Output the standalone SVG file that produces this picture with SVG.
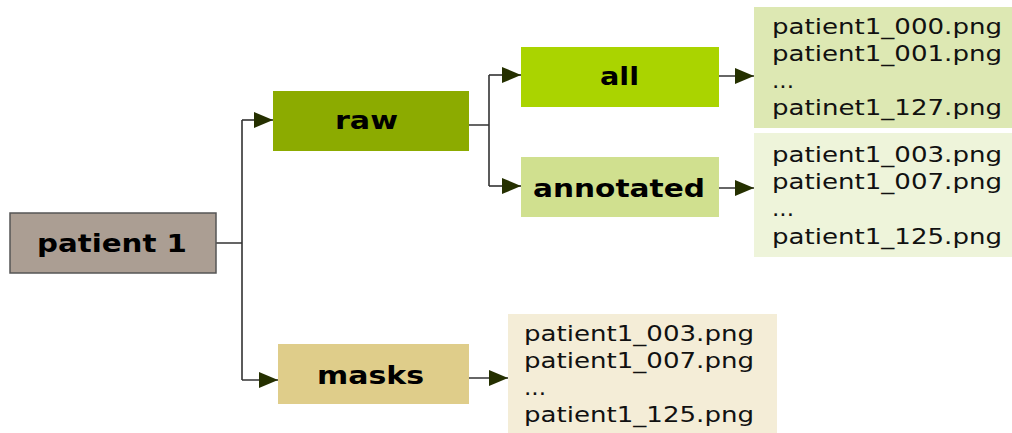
<svg xmlns="http://www.w3.org/2000/svg" width="1012" height="433" viewBox="0 0 1012 433">
<style>
.lbl{font-family:"DejaVu Sans","Verdana",sans-serif;font-weight:bold;font-size:25px;fill:#000;text-anchor:start}
.lst{font-family:"DejaVu Sans","Verdana",sans-serif;font-size:22px;fill:#111}
.ln{stroke:#333;stroke-width:1.6;fill:none}
</style>
<defs>
<marker id="ah" markerUnits="userSpaceOnUse" markerWidth="20" markerHeight="16" refX="19" refY="8" orient="auto">
<path d="M0,0 L19,8 L0,16 Z" fill="#253000"/>
</marker>
</defs>
<rect width="1012" height="433" fill="#fff"/>
<g id="connectors">
<path class="ln" d="M216,243 H242 M242,120 V380"/>
<path class="ln" d="M242,120 H273" marker-end="url(#ah)"/>
<path class="ln" d="M242,380 H278" marker-end="url(#ah)"/>
<path class="ln" d="M469,125 H489 M489,75 V186"/>
<path class="ln" d="M489,75 H521" marker-end="url(#ah)"/>
<path class="ln" d="M489,186 H521" marker-end="url(#ah)"/>
<path class="ln" d="M719,76 H754" marker-end="url(#ah)"/>
<path class="ln" d="M719,188 H754" marker-end="url(#ah)"/>
<path class="ln" d="M469,378 H508" marker-end="url(#ah)"/>
</g>
<g id="patient1">
<rect x="10" y="213" width="206" height="60" fill="#ab9e93" stroke="#555" stroke-width="1.5"/>
<text class="lbl" x="37" y="252" textLength="150" lengthAdjust="spacingAndGlyphs">patient 1</text>
</g>
<g id="raw">
<rect x="273" y="91" width="196" height="60" fill="#8cab00"/>
<text class="lbl" x="335" y="129" textLength="63" lengthAdjust="spacingAndGlyphs">raw</text>
</g>
<g id="all">
<rect x="521" y="47" width="198" height="60" fill="#aad400"/>
<text class="lbl" x="600" y="85" textLength="39" lengthAdjust="spacingAndGlyphs">all</text>
</g>
<g id="annotated">
<rect x="521" y="157" width="198" height="60" fill="#d0e08f"/>
<text class="lbl" x="533" y="197" textLength="172" lengthAdjust="spacingAndGlyphs">annotated</text>
</g>
<g id="masks">
<rect x="278" y="344" width="191" height="60" fill="#dfcd8a"/>
<text class="lbl" x="317" y="384" textLength="107" lengthAdjust="spacingAndGlyphs">masks</text>
</g>
<g id="list-all">
<rect x="754" y="7" width="258" height="121" fill="#dde8b3"/>
<text class="lst" x="772" y="34" textLength="230" lengthAdjust="spacingAndGlyphs">patient1_000.png</text>
<text class="lst" x="772" y="61" textLength="230" lengthAdjust="spacingAndGlyphs">patient1_001.png</text>
<text class="lst" x="772" y="88" textLength="22" lengthAdjust="spacingAndGlyphs">...</text>
<text class="lst" x="772" y="115" textLength="230" lengthAdjust="spacingAndGlyphs">patinet1_127.png</text>
</g>
<g id="list-annotated">
<rect x="754" y="133" width="258" height="124" fill="#eef4da"/>
<text class="lst" x="772" y="162" textLength="230" lengthAdjust="spacingAndGlyphs">patient1_003.png</text>
<text class="lst" x="772" y="189" textLength="230" lengthAdjust="spacingAndGlyphs">patient1_007.png</text>
<text class="lst" x="772" y="216" textLength="22" lengthAdjust="spacingAndGlyphs">...</text>
<text class="lst" x="772" y="244" textLength="230" lengthAdjust="spacingAndGlyphs">patient1_125.png</text>
</g>
<g id="list-masks">
<rect x="508" y="314" width="269" height="119" fill="#f4edd7"/>
<text class="lst" x="524" y="341" textLength="230" lengthAdjust="spacingAndGlyphs">patient1_003.png</text>
<text class="lst" x="524" y="368" textLength="230" lengthAdjust="spacingAndGlyphs">patient1_007.png</text>
<text class="lst" x="524" y="395" textLength="22" lengthAdjust="spacingAndGlyphs">...</text>
<text class="lst" x="524" y="422" textLength="230" lengthAdjust="spacingAndGlyphs">patient1_125.png</text>
</g>
</svg>
